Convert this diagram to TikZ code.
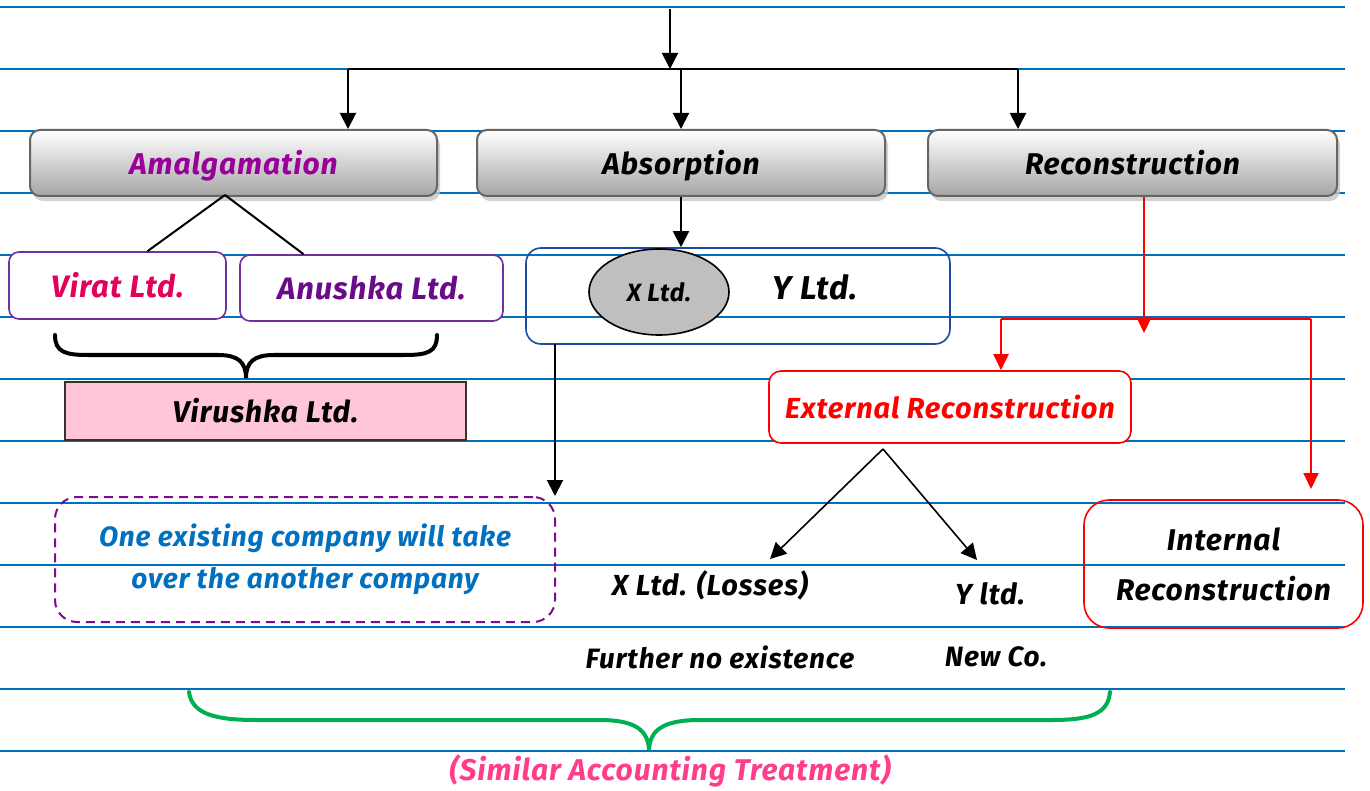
\documentclass[tikz,border=0pt]{standalone}
\usepackage{fontspec}
\newfontfamily\hand{Fira Sans}[LetterSpace=3]
\usetikzlibrary{arrows.meta,shadows,calc,shapes.geometric}
\definecolor{ruleblue}{HTML}{0070C0}
\definecolor{amalc}{HTML}{990099}
\definecolor{viratc}{HTML}{E4005A}
\definecolor{anushc}{HTML}{6A0B8A}
\definecolor{boxpurple}{HTML}{7030A0}
\definecolor{xyblue}{HTML}{1E4B9F}
\definecolor{dashpurple}{HTML}{7A0E8C}
\definecolor{pinkfill}{HTML}{FFC5DA}
\definecolor{greenbr}{HTML}{00B050}
\definecolor{pinktxt}{HTML}{FF3D8B}
\tikzset{
  hw/.style={font=\hand\bfseries\itshape\fontsize{#1}{#1}\selectfont},
  ruled/.style={draw=ruleblue, line width=2pt},
  gbox/.style={rounded corners=10pt, draw=gray!80!black, line width=2pt,
    top color=white, bottom color=gray!70, inner sep=0pt,
    minimum height=66pt, text depth=2pt,
    drop shadow={shadow xshift=3pt, shadow yshift=-5pt, fill=gray!45, opacity=0.8}},
  pbox/.style={rounded corners=10pt, draw=boxpurple, line width=1.6pt, fill=white, inner sep=0pt},
  arr/.style={-{Triangle[length=16pt,width=16pt]}, line width=2pt},
  rarr/.style={-{Triangle[length=16pt,width=15pt]}, line width=2pt, draw=red, fill=red},
  plain/.style={line width=2pt},
}
\begin{document}
\begin{tikzpicture}[x=1pt,y=-1pt]
\useasboundingbox (0,0) rectangle (1370,791);
\fill[white] (0,0) rectangle (1370,791);
\foreach \i in {0,...,12} {\draw[ruled] (0,7+62*\i) -- (1345,7+62*\i);}

% main boxes
\node[gbox, minimum width=407pt, hw=30, text=amalc] (amal) at (233.5,163) {Amalgamation};
\node[gbox, minimum width=408pt, hw=30] (absorp) at (681,163) {Absorption};
\node[gbox, minimum width=409pt, hw=30] (recon) at (1132.5,163) {Reconstruction};

% top connectors
\coordinate (top) at (670,9);
\coordinate (hl) at (348,69);
\coordinate (hr) at (1018,69);
\coordinate (hm) at (670,69);
\draw[arr] (top) -- (hm);
\draw[plain] (hl) -- (hr);
\draw[arr] (hl) -- (hl |- amal.north);
\draw[arr] (hr) -- (hr |- recon.north);
\draw[arr] (absorp.north |- hl) -- (absorp.north);

% amalgamation branch
\node[pbox, minimum width=217pt, minimum height=67pt, hw=31, text=viratc] (virat) at (117.5,285.5) {Virat Ltd.};
\node[pbox, minimum width=263pt, minimum height=66pt, hw=31, text=anushc] (anush) at (371.5,288) {Anushka Ltd.};
\coordinate (apex) at (225,195);
\draw[plain] (apex) -- ([xshift=30pt]virat.north);
\draw[plain] (apex) -- ([xshift=-68pt]anush.north);
\node[draw=black!80, line width=1.6pt, fill=pinkfill, minimum width=401pt, minimum height=58pt, inner sep=0pt, hw=30] (virushka) at (265.5,411) {Virushka Ltd.};
\draw[line width=4pt, line cap=round] (55,335) .. controls (55,352) and (65,355) .. (88,355) -- (218,355)
   .. controls (238,355) and (246,362) .. (246,378)
   .. controls (246,362) and (254,355) .. (274,355) -- (404,355)
   .. controls (428,355) and (437,352) .. (437,335);

% absorption branch
\node[draw=xyblue, line width=1.6pt, rounded corners=15pt, minimum width=424pt, minimum height=96pt, inner sep=0pt] (xy) at (738,296) {};
\node[ellipse, draw=black, line width=1.6pt, fill=gray!50, minimum width=140pt, minimum height=86pt, inner sep=0pt, hw=25] (xell) at (659,292) {X Ltd.};
\node[hw=33] (ytxt) at (815,287) {Y Ltd.};
\draw[arr] (absorp.south) -- (absorp.south |- xy.north);
\node[draw=dashpurple, line width=2pt, dash pattern=on 9pt off 6pt, rounded corners=22pt, minimum width=500pt, minimum height=125pt, inner sep=0pt, align=center, text=ruleblue, hw=28] (dash) at (305,559.5) {One existing company will take\\[14pt]over the another company};
\coordinate (xyd) at (555,344);
\draw[arr] (xyd) -- (xyd |- dash.north);

% reconstruction branch
\node[draw=red, line width=1.6pt, rounded corners=12pt, fill=white, minimum width=362pt, minimum height=72pt, inner sep=0pt, hw=29, text=red] (ext) at (950,407) {External Reconstruction};
\node[draw=red, line width=1.6pt, rounded corners=25pt, minimum width=279pt, minimum height=128pt, inner sep=0pt, align=center, hw=30] (int) at (1223.5,564) {Internal\\[20pt]Reconstruction};
\coordinate (rtip) at (1144,333);
\coordinate (rl) at (1001,319);
\coordinate (rr) at (1311,319);
\coordinate (itip) at (1311,489);
\draw[rarr] (recon.south -| rtip) -- (rtip);
\draw[red, line width=2pt] (rl) -- (rr);
\draw[rarr] (rl) -- (rl |- ext.north);
\draw[rarr] (rr) -- (itip);

\coordinate (eapex) at (883,449);
\coordinate (xtip) at (770,559);
\coordinate (ytip) at (977,560);
\draw[arr, line width=1.6pt] (eapex) -- (xtip);
\draw[arr, line width=1.6pt] (eapex) -- (ytip);
\node[hw=29] (xloss) at (710,585) {X Ltd. (Losses)};
\node[hw=29] (yltd) at (990,594) {Y ltd.};
\node[hw=28] (further) at (720,657) {Further no existence};
\node[hw=28] (newco) at (996,657) {New Co.};

% green brace
\draw[greenbr, line width=4pt, line cap=round] (189,692) .. controls (192,714) and (215,720) .. (256,720) -- (600,720)
   .. controls (635,720) and (648,730) .. (649,750)
   .. controls (650,730) and (663,720) .. (700,720) -- (1052,720)
   .. controls (1090,720) and (1108,714) .. (1110,692);
\node[hw=30, text=pinktxt] (similar) at (670,771) {(Similar Accounting Treatment)};
\end{tikzpicture}
\end{document}
